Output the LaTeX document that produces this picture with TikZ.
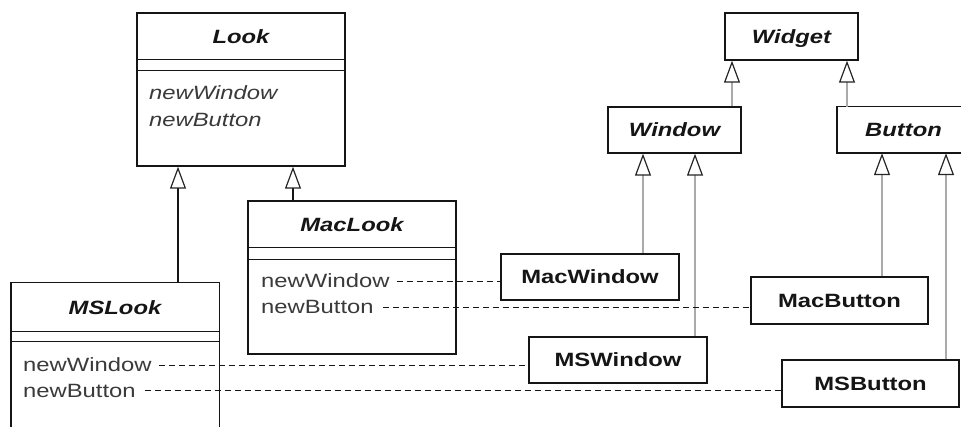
\documentclass[tikz,border=0pt]{standalone}
\usepackage{fontspec}
\newfontfamily\umlfont{Liberation Sans}[FakeStretch=1.24]
\usetikzlibrary{arrows.meta,calc}
\definecolor{linegray}{HTML}{AAAAAA}
\definecolor{attrgray}{HTML}{3A3A3A}
\definecolor{inkblack}{HTML}{151515}

\tikzset{
  umltext/.style={font=\umlfont\fontsize{19.2}{22}\selectfont},
  boxline/.style={draw=inkblack, line width=1.4pt},
  classbox/.style={boxline, rectangle, inner sep=0pt},
  hiddenbox/.style={rectangle, inner sep=0pt},
  namestyle/.style={umltext, font=\umlfont\fontsize{19.2}{22}\selectfont\bfseries\itshape,
    inner sep=0pt, text height=13.5pt, text depth=0pt, text=inkblack},
  abstractbox/.style={classbox, namestyle},
  concretebox/.style={classbox, namestyle, font=\umlfont\fontsize{19.2}{22}\selectfont\bfseries},
  attr/.style={umltext, anchor=base west, inner sep=0pt, text=attrgray},
  attrit/.style={attr, font=\umlfont\fontsize{19.2}{22}\selectfont\itshape},
  opentri/.style={-{Triangle[open, length=22pt, width=16pt, line width=1.2pt, color=black!85]}},
  inheritblack/.style={opentri, line width=1.5pt, draw=inkblack},
  inheritgray/.style={opentri, line width=2.8pt, draw=linegray},
  delegates/.style={draw=inkblack, line width=1pt, dash pattern=on 6pt off 4pt},
  sepline/.style={boxline}
}

\begin{document}
\begin{tikzpicture}[x=1pt,y=-1pt]
\useasboundingbox[fill=white] (0,0) rectangle (961,427);

% ---------- Look hierarchy ----------
\node[classbox, minimum width=208pt, minimum height=153pt] (look) at (241,89.5) {};
\node[namestyle] (lookname) at (241,36.5) {Look};
\draw[sepline] ($(look.north west)+(0,47)$) -- ($(look.north east)+(0,47)$);
\draw[sepline] ($(look.north west)+(0,58)$) -- ($(look.north east)+(0,58)$);
\node[attrit] (lookw) at (149,100) {newWindow};
\node[attrit] (lookb) at (149,127) {newButton};

\node[classbox, minimum width=208pt, minimum height=153pt] (maclook) at (352,277.5) {};
\node[namestyle] (maclookname) at (352,224.5) {MacLook};
\draw[sepline] ($(maclook.north west)+(0,47)$) -- ($(maclook.north east)+(0,47)$);
\draw[sepline] ($(maclook.north west)+(0,59)$) -- ($(maclook.north east)+(0,59)$);
\node[attr] (mlw) at (261,288) {newWindow};
\node[attr] (mlb) at (261,314) {newButton};

% MSLook runs past the lower edge
\node[hiddenbox, minimum width=208pt, minimum height=144pt] (mslook) at (115,355) {};
\draw[boxline] (mslook.south west) -- (mslook.north west) -- (mslook.north east) -- (mslook.south east);
\node[namestyle] (mslookname) at (115,307.5) {MSLook};
\draw[sepline] ($(mslook.north west)+(0,49)$) -- ($(mslook.north east)+(0,49)$);
\draw[sepline] ($(mslook.north west)+(0,59)$) -- ($(mslook.north east)+(0,59)$);
\node[attr] (msw) at (23,372) {newWindow};
\node[attr] (msb) at (23,397) {newButton};

\draw[inheritblack] (mslook.north -| 178,0) -- (look.south -| 178,0);
\draw[inheritblack] (maclook.north -| 293,0) -- (look.south -| 293,0);

% ---------- Widget hierarchy ----------
\node[abstractbox, minimum width=133pt, minimum height=47pt] (widget) at (791.5,36.5) {Widget};
\node[abstractbox, minimum width=133pt, minimum height=46pt] (window) at (674.5,130) {Window};
% Button runs past the right edge
\node[hiddenbox, minimum width=133pt, minimum height=46pt] (button) at (903.5,130) {};
\draw[boxline] (button.north -| 961,0) -- (button.north west) -- (button.south west) -- (button.south -| 961,0);
\node[namestyle] (buttonname) at (903.5,130) {Button};

\node[concretebox, minimum width=178pt, minimum height=46pt] (macwindow) at (590,277) {MacWindow};
\node[concretebox, minimum width=177pt, minimum height=47pt] (macbutton) at (839.5,300.5) {MacButton};
\node[concretebox, minimum width=178pt, minimum height=46pt] (mswindow) at (618,360) {MSWindow};
\node[concretebox, minimum width=177pt, minimum height=47pt] (msbutton) at (870.5,383.5) {MSButton};

\draw[inheritgray] (window.north -| 732,0) -- (widget.south -| 732,0);
\draw[inheritgray] (button.north -| 847,0) -- (widget.south -| 847,0);
\draw[inheritgray] (macwindow.north -| 643,0) -- (window.south -| 643,0);
\draw[inheritgray] (mswindow.north -| 695,0) -- (window.south -| 695,0);
\draw[inheritgray] (macbutton.north -| 882,0) -- (button.south -| 882,0);
\draw[inheritgray] (msbutton.north -| 946,0) -- (button.south -| 946,0);

% ---------- factory methods to products ----------
\draw[delegates] ([xshift=7pt]mlw.east) -- (mlw.east -| macwindow.west);
\draw[delegates] ([xshift=9pt]mlb.east) -- (mlb.east -| macbutton.west);
\draw[delegates] ([xshift=7pt]msw.east) -- (msw.east -| mswindow.west);
\draw[delegates] ([xshift=9pt]msb.east) -- (msb.east -| msbutton.west);
\end{tikzpicture}
\end{document}
